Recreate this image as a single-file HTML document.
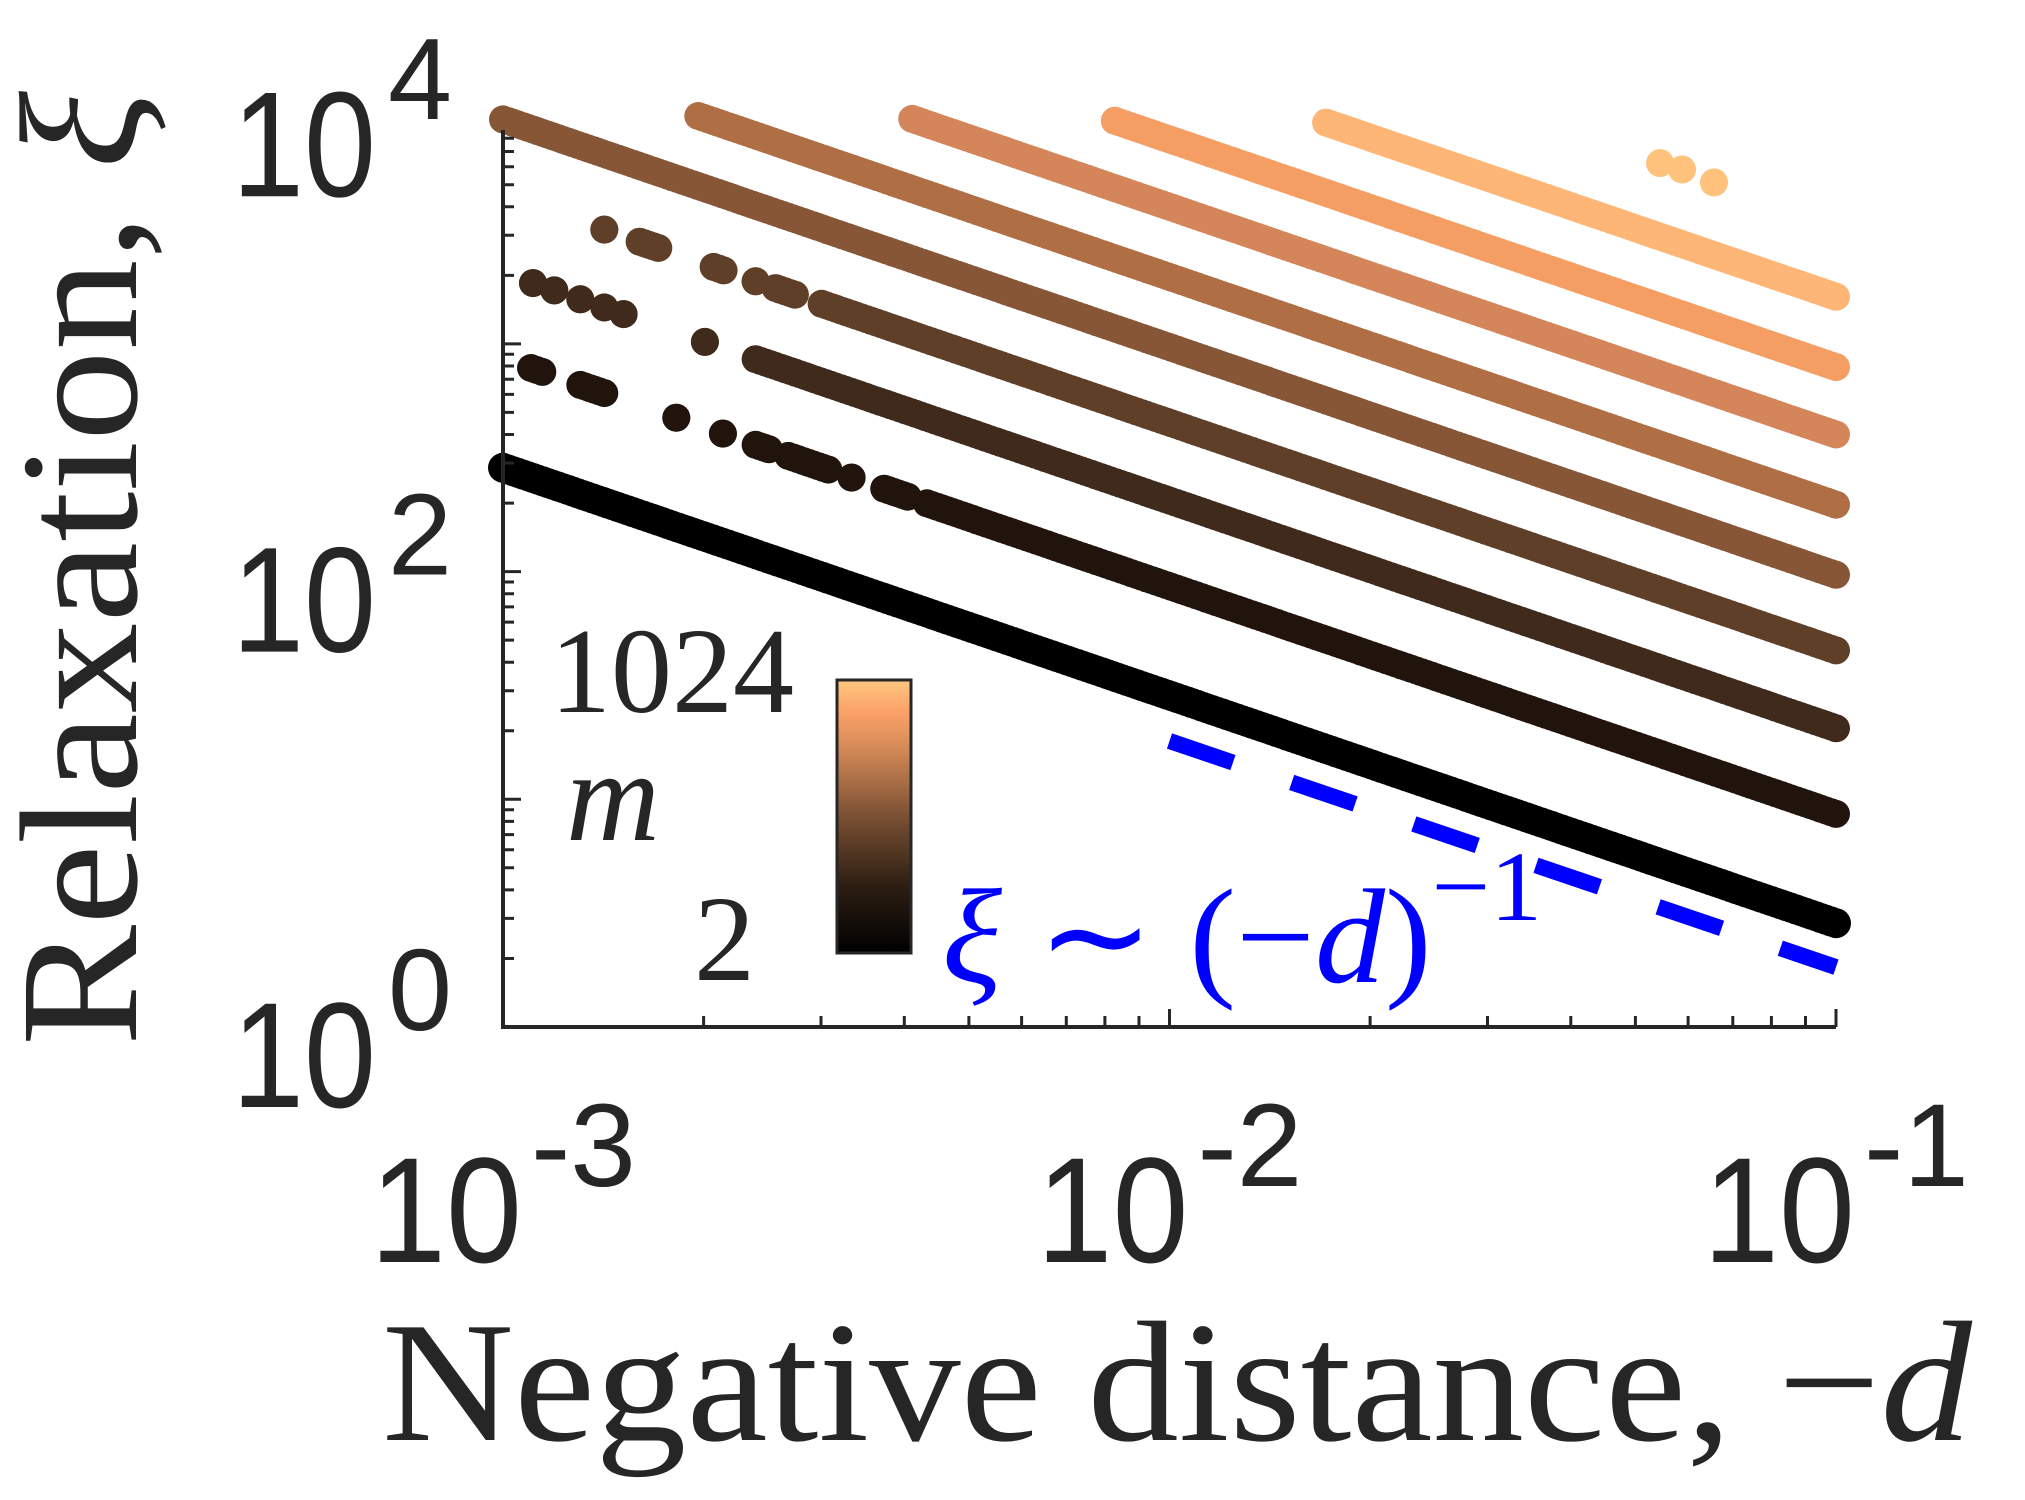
<!DOCTYPE html>
<html><head><meta charset="utf-8"><style>
html,body{margin:0;padding:0;background:#fff;}
svg{display:block;}
text{fill:#262626;}
</style></head><body>
<svg id="chart" width="2025" height="1500" viewBox="0 0 2025 1500" xmlns="http://www.w3.org/2000/svg">
<defs>
<linearGradient id="cmap" x1="0" y1="1" x2="0" y2="0">
<stop offset="0" stop-color="#000000"/>
<stop offset="0.25" stop-color="#2e1f14"/>
<stop offset="0.5" stop-color="#7a5033"/>
<stop offset="0.75" stop-color="#d48a58"/>
<stop offset="0.88" stop-color="#fba167"/>
<stop offset="1" stop-color="#ffc680"/>
</linearGradient>
</defs>
<g id="series"></g>
<g id="axes"></g>
<text transform="translate(136,1046) rotate(-90)" font-family="Liberation Serif, serif" font-size="168" textLength="955" lengthAdjust="spacingAndGlyphs">Relaxation, <tspan font-style="italic">ξ</tspan></text>
<text x="382" y="1440" font-family="Liberation Serif, serif" font-size="172" textLength="1590" lengthAdjust="spacingAndGlyphs">Negative distance, −<tspan font-style="italic">d</tspan></text>
<rect x="837" y="680" width="74" height="273" fill="url(#cmap)" stroke="#262626" stroke-width="3"/>
<text x="550" y="712" font-family="Liberation Serif, serif" font-size="122" textLength="244" lengthAdjust="spacingAndGlyphs">1024</text>
<text x="566" y="840" font-family="Liberation Serif, serif" font-style="italic" font-size="130">m</text>
<text x="694" y="980" font-family="Liberation Serif, serif" font-size="122">2</text>
<text x="942" y="982" font-family="Liberation Serif, serif" font-size="135" textLength="600" lengthAdjust="spacingAndGlyphs" style="fill:#0000ff"><tspan font-style="italic">ξ</tspan> ∼ (−<tspan font-style="italic">d</tspan>)<tspan dy="-62" font-size="100">−1</tspan></text>
</svg>
<script>
// data
const mValues = [2, 4, 8, 16, 32, 64, 128, 256, 512];
const colors = ['#000000','#20140d','#3f2a1b','#5f3f28','#865637','#b06e45','#d4865a','#f59e64','#fdb676'];
const logXiAtTenth = [0.456, 0.936, 1.312, 1.654, 1.986, 2.294, 2.602, 2.898, 3.207];
const exponents = [-1, -1, -1, -1, -1, -1, -1, -1, -1];
const segments = [
  [[-3, -1]],
  [[-2.958,-2.941],[-2.884,-2.848],[-2.740,-2.740],[-2.670,-2.670],[-2.621,-2.601],[-2.572,-2.512],[-2.477,-2.477],[-2.428,-2.393],[-2.364,-1]],
  [[-2.955,-2.955],[-2.923,-2.923],[-2.884,-2.884],[-2.848,-2.848],[-2.819,-2.819],[-2.697,-2.697],[-2.621,-1]],
  [[-2.848,-2.848],[-2.795,-2.767],[-2.684,-2.669],[-2.621,-2.621],[-2.591,-2.562],[-2.522,-1]],
  [[-3, -1]],
  [[-2.707, -1]],
  [[-2.386, -1]],
  [[-2.082, -1]],
  [[-1.765, -1]]
];
const m1024LogD = [-1.264, -1.231, -1.183];
const m1024LogXi = [3.794, 3.766, 3.709];
const m1024Color = '#ffc27c';
const guideLogD = [-2, -1];
const guideLogXi = [1.256, 0.263];
const xTicks = [-3, -2, -1];
const yTicks = [0, 2, 4];

// axis functions
const X0 = 503, X1 = 1836, Y0 = 1027, YD = 227.7;
const xDec = (X1 - X0) / 2;
const sx = l => X0 + (l + 3) * xDec;
const sy = l => Y0 - l * YD;
const NS = 'http://www.w3.org/2000/svg';
const mk = (tag, attrs, parent) => { const e = document.createElementNS(NS, tag); for (const k in attrs) e.setAttribute(k, attrs[k]); parent.appendChild(e); return e; };

const sg = document.getElementById('series');
const R = 14;
mValues.forEach((m, i) => {
  const g = mk('g', {fill: colors[i]}, sg);
  
  
  segments[i].forEach(([a, b]) => {
    const n = Math.max(1, Math.round((sx(b) - sx(a)) / 5));
    for (let k = 0; k <= n; k++) {
      const l = a + (b - a) * k / n;
      const ly = logXiAtTenth[i] + exponents[i] * (l + 1);
      const c = mk('circle', {cx: sx(l).toFixed(1), cy: sy(ly).toFixed(1), r: i === 0 ? R + 1 : R}, g);
      
      
    }
  });
});
const g1024 = mk('g', {fill: m1024Color}, sg);


m1024LogD.forEach((l, k) => {
  const c = mk('circle', {cx: sx(l), cy: sy(m1024LogXi[k]), r: R}, g1024);
  
  
});
const guide = mk('line', {x1: sx(guideLogD[0]), y1: sy(guideLogXi[0]), x2: sx(guideLogD[1]), y2: sy(guideLogXi[1]), stroke: '#0000ff', 'stroke-width': 16, 'stroke-dasharray': '67 62'}, sg);



// axes
const ax = document.getElementById('axes');
const YTOP = 130;
const axl = mk('path', {d: `M${X0},${YTOP} V${Y0} H${X1}`, fill: 'none', stroke: '#262626', 'stroke-width': 4}, ax);


let td = '';
for (let dec = -3; dec <= -1; dec++) {
  for (let k = 1; k <= 9; k++) {
    const l = dec + Math.log10(k);
    if (l > -1 + 1e-9) break;
    const len = k === 1 ? 18 : 11;
    td += `M${sx(l).toFixed(1)},${Y0} v${-len} `;
  }
}
for (let dec = 0; dec <= 3; dec++) {
  for (let k = 1; k <= 9; k++) {
    const l = dec + Math.log10(k);
    const y = sy(l);
    if (y < YTOP) break;
    const len = k === 1 ? 18 : 11;
    td += `M${X0},${y.toFixed(1)} h${len} `;
  }
}
const ticks = mk('path', {d: td, stroke: '#262626', 'stroke-width': 3, fill: 'none'}, ax);



xTicks.forEach(t => {
  const cx = sx(t);
  const tx = mk('text', {x: cx - 133, y: 1262, 'font-family': 'Liberation Sans, sans-serif', 'font-size': 150, textLength: 152, lengthAdjust: 'spacingAndGlyphs'}, ax);
  tx.textContent = '10';
  
  
  const ex = mk('text', {x: cx + 28, y: 1186, 'font-family': 'Liberation Sans, sans-serif', 'font-size': 118}, ax);
  ex.textContent = '-' + (-t);
  
  
});
yTicks.forEach(t => {
  const y = sy(t);
  const tx = mk('text', {x: 232, y: y + 80, 'font-family': 'Liberation Sans, sans-serif', 'font-size': 150, textLength: 144, lengthAdjust: 'spacingAndGlyphs'}, ax);
  tx.textContent = '10';
  
  
  const ex = mk('text', {x: 388, y: y + 3, 'font-family': 'Liberation Sans, sans-serif', 'font-size': 116, textLength: 64, lengthAdjust: 'spacingAndGlyphs'}, ax);
  ex.textContent = String(t);
  
  
});
</script>
</body></html>
